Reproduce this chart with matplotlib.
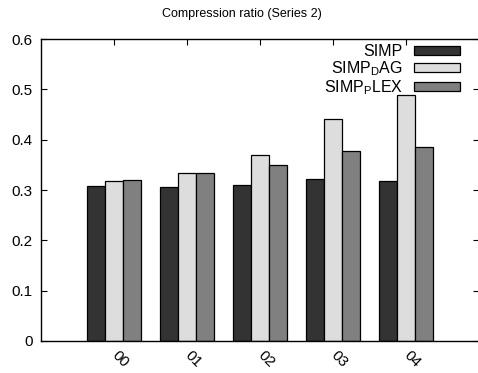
import matplotlib
matplotlib.use("Agg")
import matplotlib.pyplot as plt
import numpy as np

plt.rcParams["font.family"] = ["Liberation Sans", "DejaVu Sans"]

categories = ["00", "01", "02", "03", "04"]
simp = [0.308, 0.305, 0.309, 0.322, 0.317]
simp_dag = [0.317, 0.333, 0.369, 0.442, 0.488]
simp_plex = [0.319, 0.333, 0.349, 0.378, 0.385]

series = [
    ("SIMP", simp, "#333333"),
    ("SIMP$_\\mathregular{D}$AG", simp_dag, "#dddddd"),
    ("SIMP$_\\mathregular{P}$LEX", simp_plex, "#808080"),
]


def main():
    fig = plt.figure(figsize=(4.78, 3.73), dpi=100)
    ax = fig.add_axes([0.0858, 0.0858, 0.9163, 0.8096])
    x = np.arange(len(categories))
    width = 0.24
    for i, (label, vals, color) in enumerate(series):
        ax.bar(x + (i - 1) * 0.247, vals, width, color=color,
               edgecolor="black", linewidth=0.9, label=label)

    ax.set_xlim(-1, 5)
    ax.set_ylim(0, 0.6)
    ax.set_yticks(np.arange(0, 0.61, 0.1))
    ax.set_yticklabels(["0", "0.1", "0.2", "0.3", "0.4", "0.5", "0.6"])
    ax.set_xticks(x)
    ax.set_xticklabels(categories, rotation=-45, ha="left", va="center",
                       rotation_mode="anchor", fontsize=11)
    ax.tick_params(direction="in", top=True, right=True, length=4,
                   labelsize=11, width=0.8)
    ax.tick_params(axis="x", pad=9, bottom=False)
    ax.tick_params(axis="y", pad=6)
    for s in ax.spines.values():
        s.set_linewidth(1.0)

    fig.text(0.506, 0.962, "Compression ratio (Series 2)", ha="center",
             va="center", fontsize=9)

    ax.legend(loc="upper right", bbox_to_anchor=(0.983, 1.02), frameon=False,
              markerfirst=False, fontsize=11.5, handlelength=2.9,
              handleheight=0.5, labelspacing=0.0, handletextpad=0.7,
              borderpad=0.2)

    fig.savefig("out.png", dpi=100)


if __name__ == "__main__":
    main()
